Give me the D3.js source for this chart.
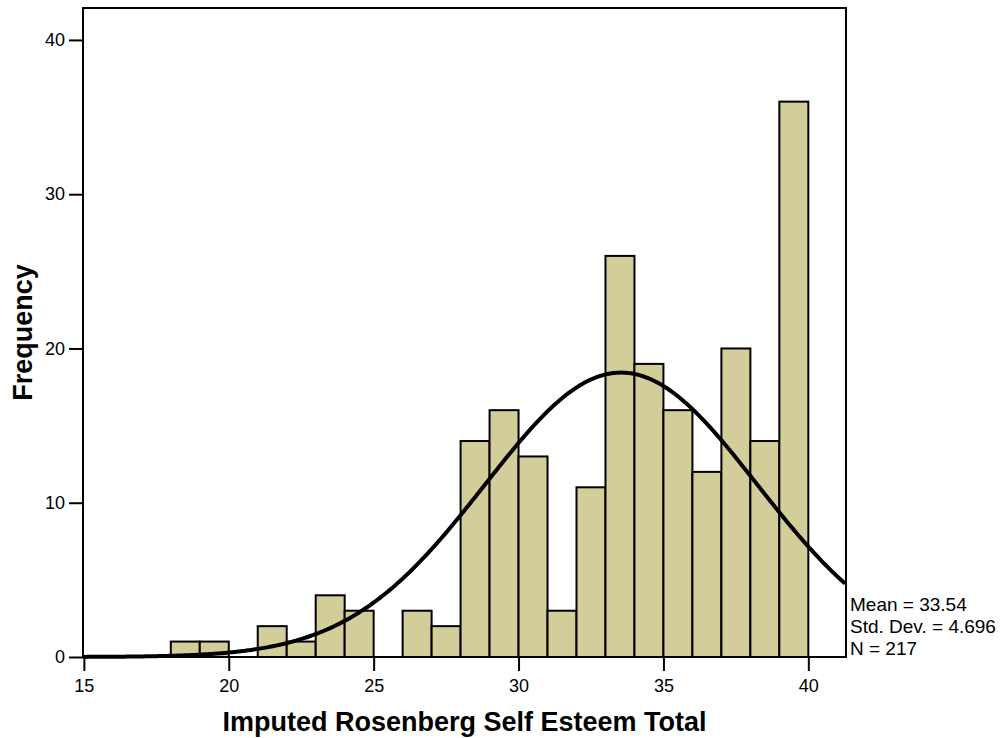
<html>
<head>
<title>histogram</title>
<style>
  body { margin: 0; background: #fff; }
  text { font-family: "Liberation Sans", Arial, sans-serif; }
</style>
</head>
<body>
<script src="https://d3js.org/d3.v7.min.js"></script>
<script>
// bins (lower edge, width 1) and counts
var binStarts = [18, 19, 20, 21, 22, 23, 24, 25, 26, 27, 28, 29, 30, 31, 32, 33, 34, 35, 36, 37, 38, 39]
var counts    = [ 1,  1,  0,  2,  1,  4,  3,  0,  3,  2, 14, 16, 13,  3, 11, 26, 19, 16, 12, 20, 14, 36]
var xTicks = [15, 20, 25, 30, 35, 40]
var yTicks = [0, 10, 20, 30, 40]
var mean = 33.54, sd = 4.696, n = 217
var statLines = ['Mean = 33.54', 'Std. Dev. = 4.696', 'N = 217']

var width = 1007, height = 738
var padding = {left: 83, right: 161, top: 8, bottom: 81}

var svg = d3.select('body').append('svg')
    .attr('width', width)
    .attr('height', height)

var xScale = d3.scaleLinear()
    .domain([14.97, 41.3])
    .range([padding.left, width - padding.right])
var yScale = d3.scaleLinear()
    .domain([0, 42.07])
    .range([height - padding.bottom, padding.top])

var g = svg.append('g')

// bars
g.selectAll('rect.bar')
    .data(binStarts)
    .enter()
    .append('rect')
    .filter(function(d, i){ return counts[i] > 0 })
    .attr('class', 'bar')
    .attr('x', function(d){ return xScale(d) })
    .attr('width', function(d){ return xScale(d + 1) - xScale(d) })
    .attr('y', function(d){ return yScale(counts[binStarts.indexOf(d)]) })
    .attr('height', function(d){ return yScale(0) - yScale(counts[binStarts.indexOf(d)]) })
    .attr('fill', '#d3ce99')
    .attr('stroke', '#000')
    .attr('stroke-width', 2)

// normal curve
var curvePts = d3.range(xScale.domain()[0], xScale.domain()[1] + 0.001, 0.05)
var line = d3.line()
    .x(function(d){ return xScale(d) })
    .y(function(d){
        var z = (d - mean) / sd
        return yScale(n / (sd * Math.sqrt(2 * Math.PI)) * Math.exp(-0.5 * z * z))
    })
g.append('path')
    .datum(curvePts)
    .attr('d', line)
    .attr('fill', 'none')
    .attr('stroke', '#000')
    .attr('stroke-width', 4)

// frame
g.append('rect')
    .attr('x', xScale.range()[0])
    .attr('y', yScale.range()[1])
    .attr('width', xScale.range()[1] - xScale.range()[0])
    .attr('height', yScale.range()[0] - yScale.range()[1])
    .attr('fill', 'none')
    .attr('stroke', '#000')
    .attr('stroke-width', 2)

// axes
var xAxis = svg.append('g')
    .attr('transform', 'translate(0,' + yScale(0) + ')')
    .call(d3.axisBottom(xScale).tickValues(xTicks).tickSize(14).tickPadding(8))
var yAxis = svg.append('g')
    .attr('transform', 'translate(' + xScale.range()[0] + ',0)')
    .call(d3.axisLeft(yScale).tickValues(yTicks).tickSize(14).tickPadding(4))
;[xAxis, yAxis].forEach(function(a){
    a.select('.domain').remove()
    a.selectAll('line').attr('stroke', '#000').attr('stroke-width', 2)
    a.selectAll('text')
        .attr('fill', '#000')
        .style('font-size', '18px')
        .style('font-family', '"Liberation Sans", Arial, sans-serif')
})

// titles
svg.append('text')
    .attr('x', (xScale.range()[0] + xScale.range()[1]) / 2)
    .attr('y', 731)
    .attr('text-anchor', 'middle')
    .style('font-size', '27px')
    .style('font-weight', 'bold')
    .text('Imputed Rosenberg Self Esteem Total')
svg.append('text')
    .attr('transform', 'translate(32,' + (yScale.range()[0] + yScale.range()[1]) / 2 + ') rotate(-90)')
    .attr('text-anchor', 'middle')
    .style('font-size', '27px')
    .style('font-weight', 'bold')
    .text('Frequency')

// stats box text
svg.selectAll('text.stat')
    .data(statLines)
    .enter()
    .append('text')
    .attr('class', 'stat')
    .attr('x', xScale.range()[1] + 4)
    .attr('y', function(d, i){ return 611 + i * 22 })
    .style('font-size', '19px')
    .text(function(d){ return d })
</script>
</body>
</html>
